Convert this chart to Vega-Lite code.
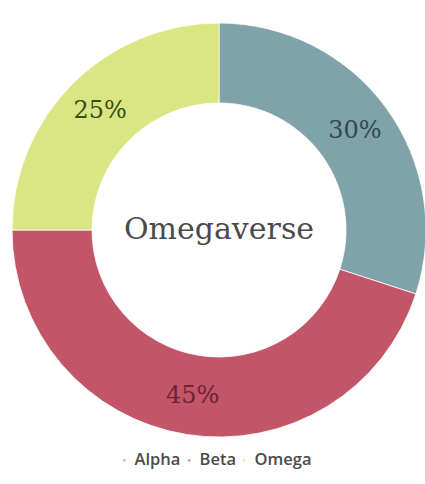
{
  "$schema": "https://vega.github.io/schema/vega-lite/v6.json",
  "autosize": "none",
  "width": 412,
  "height": 414,
  "padding": {"left": 13, "top": 23, "right": 0, "bottom": 47},
  "background": "white",
  "config": {"view": {"stroke": null}},
  "layer": [
    {
      "data": {"values": [
        {"group": "Alpha", "share": 30, "label": "30%", "rank": 1},
        {"group": "Beta", "share": 45, "label": "45%", "rank": 2},
        {"group": "Omega", "share": 25, "label": "25%", "rank": 3}
      ]},
      "layer": [
        {
          "mark": {"type": "arc", "innerRadius": 127, "outerRadius": 207, "stroke": "white", "strokeWidth": 0.8},
          "encoding": {
            "theta": {"field": "share", "type": "quantitative", "stack": true},
            "order": {"field": "rank", "type": "quantitative"},
            "color": {
              "field": "group", "type": "nominal",
              "scale": {"domain": ["Alpha", "Beta", "Omega"], "range": ["#7fa3a9", "#c25567", "#d9e683"]},
              "legend": {
                "orient": "none", "legendX": 103, "legendY": 429, "direction": "horizontal",
                "title": null, "symbolType": "circle", "symbolSize": 20, "symbolOpacity": 0.6,
                "labelFont": "Open Sans", "labelFontSize": 16.5, "labelFontWeight": 600, "labelColor": "#4a4a4a",
                "columnPadding": 0, "labelOffset": 2
              }
            }
          }
        },
        {
          "mark": {"type": "text", "radius": 168, "font": "DejaVu Serif", "fontSize": 24},
          "encoding": {
            "theta": {"field": "share", "type": "quantitative", "stack": true},
            "order": {"field": "rank", "type": "quantitative"},
            "text": {"field": "label", "type": "nominal"},
            "color": {
              "field": "group", "type": "nominal",
              "scale": {"domain": ["Alpha", "Beta", "Omega"], "range": ["#2e4a50", "#6e2333", "#3d4a14"]},
              "legend": null
            }
          }
        }
      ],
      "resolve": {"scale": {"color": "independent"}}
    },
    {
      "data": {"values": [{"center": "Omegaverse"}]},
      "mark": {"type": "text", "font": "DejaVu Serif", "fontSize": 30, "color": "#4a4a4a"},
      "encoding": {"text": {"field": "center", "type": "nominal"}}
    }
  ]
}
